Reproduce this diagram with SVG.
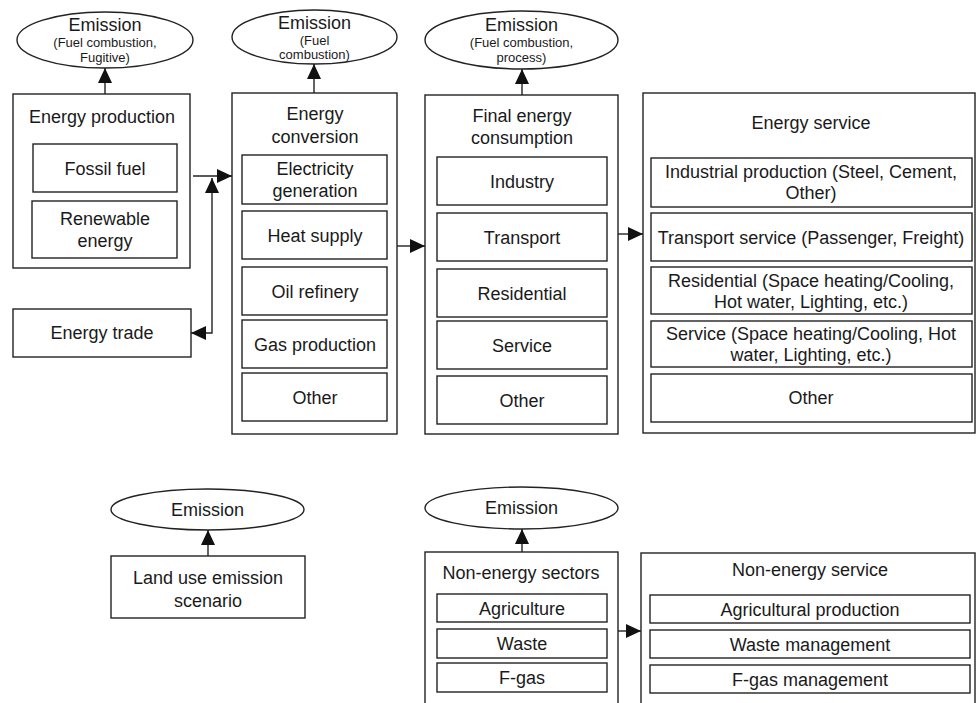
<svg xmlns="http://www.w3.org/2000/svg" width="977" height="703" viewBox="0 0 977 703">
<style>
rect,ellipse{fill:#fff;stroke:#222;stroke-width:1.4}
text{font-family:"Liberation Sans",Arial,sans-serif;font-size:18px;fill:#1a1a1a;text-anchor:middle}
text.s{font-size:13px}
.c{fill:none;stroke:#222;stroke-width:1.4}
</style>
<defs>
<marker id="ah" markerUnits="userSpaceOnUse" markerWidth="15" markerHeight="14" viewBox="0 0 15 14" refX="15" refY="7" orient="auto-start-reverse">
<path d="M0,0 L15,7 L0,14 z" fill="#111"/>
</marker>
</defs>
<rect width="977" height="703" style="fill:#fff;stroke:none"/>

<g id="emission1">
<ellipse cx="105" cy="40" rx="88" ry="28"/>
<text x="105" y="31">Emission</text>
<text class="s" x="105" y="47">(Fuel combustion,</text>
<text class="s" x="105" y="62">Fugitive)</text>
</g>
<g id="emission2">
<ellipse cx="314.5" cy="37" rx="82.5" ry="27"/>
<text x="314.5" y="29">Emission</text>
<text class="s" x="314.5" y="45">(Fuel</text>
<text class="s" x="314.5" y="59">combustion)</text>
</g>
<g id="emission3">
<ellipse cx="521.5" cy="40" rx="96.5" ry="29"/>
<text x="521.5" y="31">Emission</text>
<text class="s" x="521.5" y="47">(Fuel combustion,</text>
<text class="s" x="521.5" y="62">process)</text>
</g>

<g id="energy-production">
<rect x="13" y="94" width="177" height="174"/>
<text x="102" y="123">Energy production</text>
<rect x="33" y="144" width="144" height="48"/>
<text x="105" y="175">Fossil fuel</text>
<rect x="32" y="201" width="145" height="57"/>
<text x="105" y="225">Renewable</text>
<text x="105" y="247">energy</text>
</g>

<g id="energy-trade">
<rect x="13" y="309" width="178" height="48"/>
<text x="102" y="339">Energy trade</text>
</g>

<g id="energy-conversion">
<rect x="232" y="93" width="165" height="341"/>
<text x="315" y="120">Energy</text>
<text x="315" y="143">conversion</text>
<rect x="242" y="155" width="145" height="49"/>
<text x="315" y="175">Electricity</text>
<text x="315" y="197">generation</text>
<rect x="242" y="211" width="145" height="48"/>
<text x="315" y="242">Heat supply</text>
<rect x="242" y="267" width="145" height="48"/>
<text x="315" y="298">Oil refinery</text>
<rect x="242" y="320" width="145" height="48"/>
<text x="315" y="351">Gas production</text>
<rect x="242" y="373" width="145" height="48"/>
<text x="315" y="404">Other</text>
</g>

<g id="final-energy-consumption">
<rect x="425" y="95" width="193" height="339"/>
<text x="522" y="122">Final energy</text>
<text x="522" y="144">consumption</text>
<rect x="437" y="157" width="170" height="48"/>
<text x="522" y="188">Industry</text>
<rect x="437" y="213" width="170" height="48"/>
<text x="522" y="244">Transport</text>
<rect x="437" y="269" width="170" height="48"/>
<text x="522" y="300">Residential</text>
<rect x="437" y="321" width="170" height="48"/>
<text x="522" y="352">Service</text>
<rect x="437" y="376" width="170" height="48"/>
<text x="522" y="407">Other</text>
</g>

<g id="energy-service">
<rect x="643" y="93" width="332" height="340"/>
<text x="811" y="129">Energy service</text>
<rect x="651" y="158" width="321" height="49"/>
<text x="811" y="178">Industrial production (Steel, Cement,</text>
<text x="811" y="199">Other)</text>
<rect x="651" y="213" width="321" height="48"/>
<text x="811" y="244">Transport service (Passenger, Freight)</text>
<rect x="651" y="267" width="321" height="47"/>
<text x="811" y="287">Residential (Space heating/Cooling,</text>
<text x="811" y="308">Hot water, Lighting, etc.)</text>
<rect x="651" y="321" width="321" height="46"/>
<text x="811" y="340">Service (Space heating/Cooling, Hot</text>
<text x="811" y="361">water, Lighting, etc.)</text>
<rect x="651" y="374" width="321" height="48"/>
<text x="811" y="404">Other</text>
</g>

<g id="emission4">
<ellipse cx="207.5" cy="509.5" rx="96.5" ry="20.5"/>
<text x="207.5" y="516">Emission</text>
</g>
<g id="land-use">
<rect x="111" y="556" width="194" height="62"/>
<text x="208" y="584">Land use emission</text>
<text x="208" y="607">scenario</text>
</g>

<g id="emission5">
<ellipse cx="521.5" cy="508" rx="96.5" ry="21"/>
<text x="521.5" y="514">Emission</text>
</g>
<g id="non-energy-sectors">
<rect x="425" y="552" width="193" height="170"/>
<text x="521" y="579">Non-energy sectors</text>
<rect x="437" y="594" width="170" height="28"/>
<text x="522" y="615">Agriculture</text>
<rect x="437" y="629" width="170" height="29"/>
<text x="522" y="650">Waste</text>
<rect x="437" y="663" width="170" height="29"/>
<text x="522" y="684">F-gas</text>
</g>
<g id="non-energy-service">
<rect x="641" y="553" width="334" height="170"/>
<text x="810" y="576">Non-energy service</text>
<rect x="650" y="595" width="320" height="28"/>
<text x="810" y="616">Agricultural production</text>
<rect x="650" y="630" width="320" height="28"/>
<text x="810" y="651">Waste management</text>
<rect x="650" y="665" width="320" height="28"/>
<text x="810" y="686">F-gas management</text>
</g>

<g id="connectors">
<line class="c" x1="105" y1="94" x2="105" y2="68" marker-end="url(#ah)"/>
<line class="c" x1="314" y1="93" x2="314" y2="64" marker-end="url(#ah)"/>
<line class="c" x1="522" y1="95" x2="522" y2="69" marker-end="url(#ah)"/>
<line class="c" x1="193" y1="176" x2="232" y2="176" marker-end="url(#ah)"/>
<path class="c" d="M212,178 L212,333 L191,333" marker-start="url(#ah)" marker-end="url(#ah)"/>
<line class="c" x1="397" y1="246" x2="425" y2="246" marker-end="url(#ah)"/>
<line class="c" x1="618" y1="234" x2="643" y2="234" marker-end="url(#ah)"/>
<line class="c" x1="208" y1="556" x2="208" y2="530" marker-end="url(#ah)"/>
<line class="c" x1="522" y1="552" x2="522" y2="529" marker-end="url(#ah)"/>
<line class="c" x1="618" y1="631" x2="641" y2="631" marker-end="url(#ah)"/>
</g>
</svg>
